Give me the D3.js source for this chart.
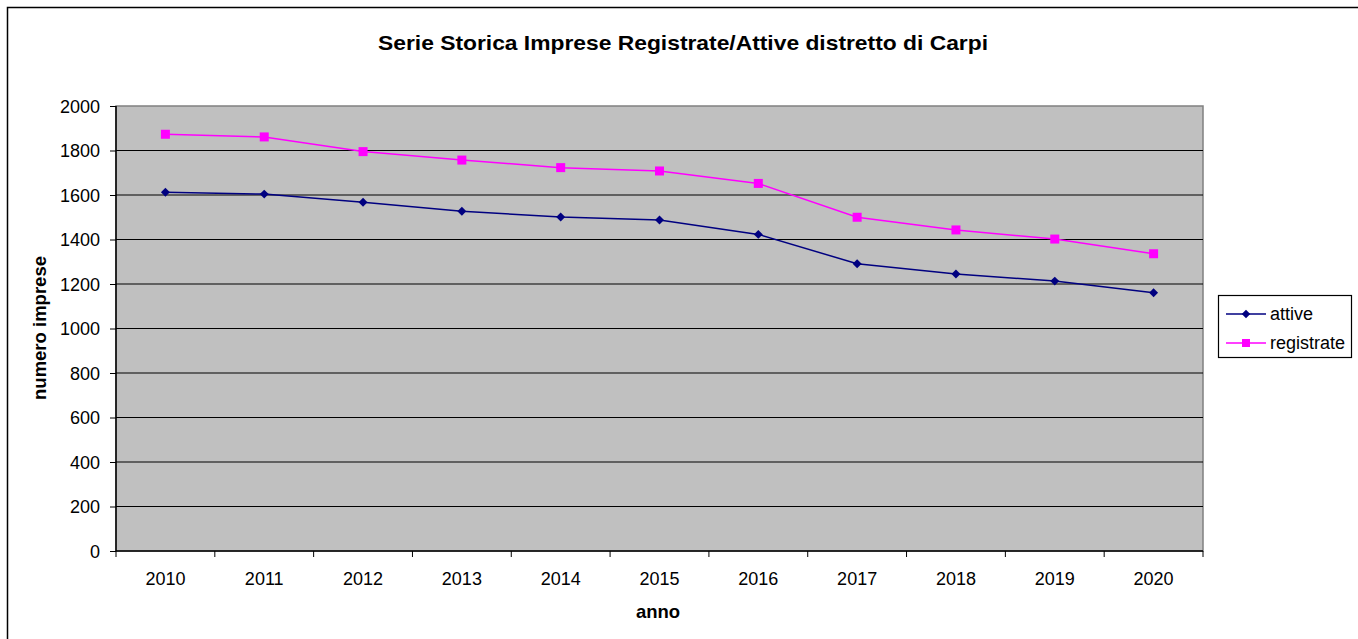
<!DOCTYPE html>
<html><head><meta charset="utf-8">
<script src="https://cdn.jsdelivr.net/npm/d3@7"></script>
<style>body{margin:0;background:#fff;} svg{display:block;font-family:"Liberation Sans",Arial,sans-serif;}</style>
</head><body>
<svg id="c" width="1358" height="639"></svg>
<script>
const years = ["2010","2011","2012","2013","2014","2015","2016","2017","2018","2019","2020"];
const attive = [1612,1604,1567,1527,1501,1488,1423,1291,1245,1213,1161];
const registrate = [1873,1861,1795,1757,1723,1708,1652,1500,1443,1402,1336];
const yTicks = [0,200,400,600,800,1000,1200,1400,1600,1800,2000];
const seriesNames = ["attive","registrate"];

const svg = d3.select("#c");
const L=116, R=1203, T=106, B=551;
const x = d3.scaleBand().domain(years).range([L,R]);
const y = d3.scaleLinear().domain([0,2000]).range([B,T]);
const FF = "Liberation Sans, Arial, sans-serif";

// outer frame
svg.append("rect").attr("x",7.5).attr("y",7.5).attr("width",1358).attr("height",640)
  .attr("fill","none").attr("stroke","#000").attr("stroke-width",1.5);

// title
svg.append("text").attr("x",683).attr("y",50).attr("text-anchor","middle")
  .attr("font-size",21).attr("font-weight","bold")
  .attr("textLength",610).attr("lengthAdjust","spacingAndGlyphs")
  .text("Serie Storica Imprese Registrate/Attive distretto di Carpi");

// plot area
svg.append("rect").attr("x",L).attr("y",T).attr("width",R-L).attr("height",B-T)
  .attr("fill","#C0C0C0").attr("stroke","#808080").attr("stroke-width",1.5);

// gridlines
svg.append("g").selectAll("line").data(yTicks.filter(d=>d>0 && d<2000)).join("line")
  .attr("x1",L).attr("x2",R).attr("y1",d=>y(d)).attr("y2",d=>y(d))
  .attr("stroke","#000").attr("stroke-width",1);

// y axis
const ya = svg.append("g").attr("transform",`translate(${L},0)`)
  .call(d3.axisLeft(y).tickValues(yTicks).tickSize(6).tickPadding(10).tickFormat(d3.format("d")));
ya.select(".domain").remove();
ya.append("line").attr("x1",0).attr("x2",0).attr("y1",T).attr("y2",B).attr("stroke","#000").attr("stroke-width",1.5);
ya.selectAll(".tick line").attr("stroke","#000");
ya.selectAll(".tick text").attr("font-size",18).attr("fill","#000").attr("font-family",FF).attr("dy","0.35em");

// x axis
const xa = svg.append("g").attr("transform",`translate(0,${B})`)
  .call(d3.axisBottom(x).tickSize(0).tickPadding(0));
xa.select(".domain").remove();
xa.append("line").attr("x1",L).attr("x2",R).attr("stroke","#000").attr("stroke-width",1.5);
xa.selectAll(".tick text").attr("font-size",18).attr("fill","#000").attr("font-family",FF)
  .attr("dy",null).attr("y",34);
const bounds = years.map(d=>x(d)).concat([R]);
xa.selectAll(".bt").data(bounds).join("line").attr("class","bt")
  .attr("x1",d=>d).attr("x2",d=>d).attr("y1",0).attr("y2",6).attr("stroke","#000");

// axis titles
svg.append("text").attr("transform","translate(46,328) rotate(-90)").attr("text-anchor","middle")
  .attr("font-size",18.5).attr("font-weight","bold").text("numero imprese");
svg.append("text").attr("x",658).attr("y",618).attr("text-anchor","middle")
  .attr("font-size",18.5).attr("font-weight","bold").text("anno");

// series
const cx = (i)=>x(years[i])+x.bandwidth()/2;
const line = d3.line().x((d,i)=>cx(i)).y(d=>y(d));
const colA="#000080", colR="#FF00FF";
svg.append("path").datum(attive).attr("d",line).attr("fill","none").attr("stroke",colA).attr("stroke-width",1.5);
svg.append("path").datum(registrate).attr("d",line).attr("fill","none").attr("stroke",colR).attr("stroke-width",1.5);
svg.append("g").selectAll("path").data(attive).join("path")
  .attr("d",d3.symbol().type(d3.symbolSquare).size(40)())
  .attr("transform",(d,i)=>`translate(${cx(i)},${y(d)}) rotate(45)`)
  .attr("fill",colA);
svg.append("g").selectAll("rect").data(registrate).join("rect")
  .attr("x",(d,i)=>cx(i)-4.5).attr("y",d=>y(d)-4.5)
  .attr("width",9).attr("height",9).attr("fill",colR);

// legend
const lg = svg.append("g");
lg.append("rect").attr("x",1218.5).attr("y",295.5).attr("width",133).attr("height",62)
  .attr("fill","#fff").attr("stroke","#000").attr("stroke-width",1.2);
const items = [{n:seriesNames[0],c:colA,s:"d",yy:314},{n:seriesNames[1],c:colR,s:"s",yy:343}];
items.forEach(it=>{
  lg.append("line").attr("x1",1226).attr("x2",1266).attr("y1",it.yy).attr("y2",it.yy).attr("stroke",it.c).attr("stroke-width",1.5);
  if(it.s==="d"){
    lg.append("path").attr("d",d3.symbol().type(d3.symbolSquare).size(36)()).attr("transform",`translate(1246,${it.yy}) rotate(45)`).attr("fill",it.c);
  } else {
    lg.append("rect").attr("x",1242).attr("y",it.yy-4).attr("width",8).attr("height",8).attr("fill",it.c);
  }
  lg.append("text").attr("x",1270).attr("y",it.yy+6).attr("font-size",18).text(it.n);
});
</script>
</body></html>
